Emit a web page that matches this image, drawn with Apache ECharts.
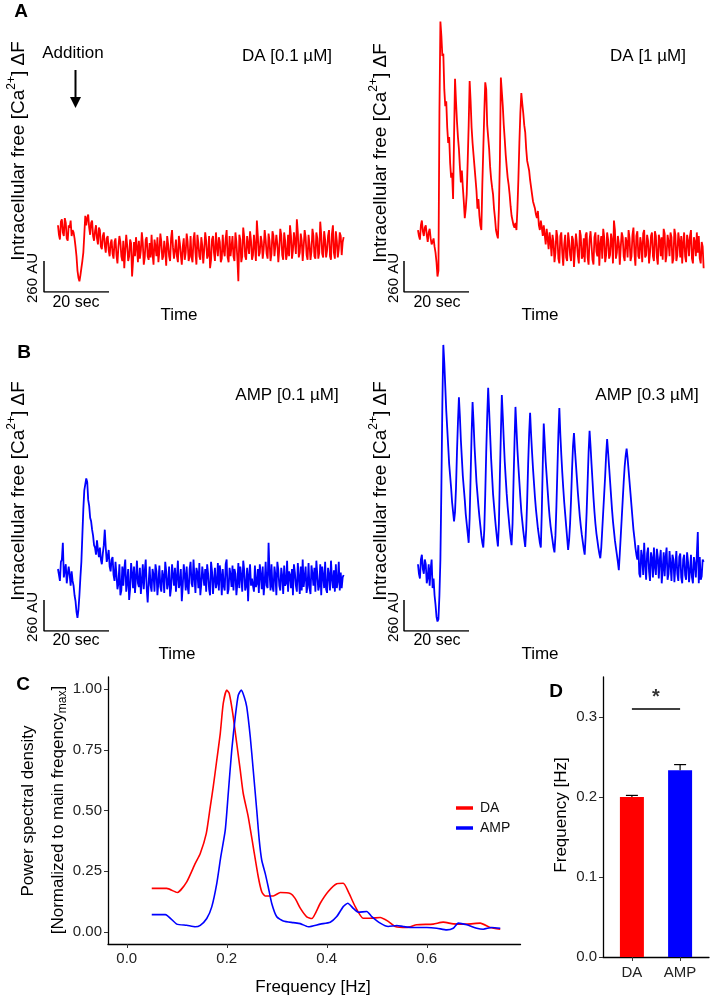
<!DOCTYPE html>
<html><head><meta charset="utf-8">
<script src="https://cdn.jsdelivr.net/npm/echarts@6/dist/echarts.min.js"></script>
<style>html,body{margin:0;padding:0;background:#fff}#c{width:710px;height:997px}</style>
</head><body><div id="c"></div>
<script>
const FONT = '"Liberation Sans", Arial, Helvetica, sans-serif';

// ---------- Calcium traces (ΔF in AU), sampled every 0.3 s starting at 4.3 s ----------
const traceStart = 4.3;
const traceStep = 0.3;
const traceDA01 = [
560,480,440,590,610,500,470,620,580,450,430,560,540,600,470,520,
500,450,380,300,180,120,90,140,200,260,330,480,640,
560,620,650,540,480,580,600,470,430,510,560,450,400,540,520,380,360,470,500,390,330,450,470,350,300,410,440,320,
280,420,450,310,240,380,470,420,300,260,430,200,350,480,390,260,300,440,410,130,
260,420,300,460,380,250,430,280,350,500,410,230,290,440,460,300,270,410,290,480,
320,230,440,380,300,460,250,340,490,420,270,300,430,350,220,470,400,300,260,450,
520,370,280,350,440,300,250,470,410,310,230,380,450,270,330,490,420,260,300,470,
290,250,440,500,330,230,480,410,300,270,460,390,240,350,500,430,280,310,470,200,
270,440,470,330,260,500,380,300,460,420,250,280,480,350,300,450,520,290,250,470,
300,380,470,300,260,500,420,280,90,480,440,250,300,540,460,300,270,470,400,320,
510,430,270,310,480,380,260,600,470,300,330,470,420,280,360,520,440,320,280,490,
430,260,320,510,470,300,290,480,400,250,360,530,480,310,270,500,430,270,320,480,
300,560,470,280,350,500,420,320,610,500,290,330,490,430,260,380,520,460,310,270,
480,400,270,340,530,470,300,280,500,450,280,330,590,480,320,290,510,440,290,350,
470,520,300,270,490,560,330,280,510,430,290,360,500,470,310,420,460];
const traceDA1 = [
520,470,440,560,600,510,470,540,560,480,420,500,530,450,400,420,450,380,330,
250,130,180,1500,2270,
2150,1980,2000,1700,1560,1600,1380,1250,1300,1080,960,1000,780,
1300,1790,1600,1430,1300,1200,1050,920,1020,880,760,620,
700,820,1100,1400,1770,1600,1380,1250,1150,1050,950,850,700,780,640,560,520,
900,1200,1500,1760,1700,1400,1300,1200,1050,950,880,820,700,620,520,480,450,
700,1100,1800,1680,1560,1400,1280,1150,1050,960,900,820,720,640,600,560,540,580,520,
700,950,1250,1500,1670,1580,1500,1400,1340,1200,1100,1060,1020,940,880,820,760,730,700,650,620,680,560,520,600,540,470,560,480,400,530,450,360,500,420,
300,480,420,250,330,520,460,280,240,470,500,330,220,400,480,290,260,500,430,310,
260,470,440,210,350,490,410,300,240,520,470,280,300,450,250,480,500,290,230,440,
510,390,270,230,460,500,340,300,480,220,400,470,280,530,460,250,310,500,440,280,
310,490,430,240,600,520,280,330,470,410,230,380,500,460,300,260,460,420,290,520,
450,260,300,480,540,330,220,470,510,300,280,460,400,250,490,520,290,310,480,430,
240,330,470,500,300,260,510,470,290,230,480,440,300,460,270,530,490,250,310,480,
420,300,500,460,240,280,530,480,260,310,500,430,290,470,240,410,500,300,250,480,
430,300,470,520,280,240,460,420,300,500,330,470,280,240,420,380,200];
const traceAMP01 = [
520,470,420,580,600,740,450,510,560,400,480,540,470,380,500,420,380,
300,250,160,110,180,300,450,580,800,1020,1180,1230,1280,1250,1100,1050,950,920,850,800,720,700,640,760,680,620,700,600,560,650,720,850,700,580,620,680,540,500,600,620,470,420,
580,470,350,400,560,300,340,540,380,520,600,330,410,520,260,350,570,480,360,540,
320,450,590,400,370,530,310,420,560,350,500,600,360,240,400,540,380,330,520,470,
330,560,500,300,410,550,370,330,510,460,320,580,500,350,400,540,290,360,560,470,
380,530,330,450,590,360,400,520,250,380,560,470,340,540,370,310,520,580,400,370,
600,450,320,530,490,360,570,300,390,540,460,380,520,330,560,480,350,300,580,500,
310,430,530,360,400,570,340,550,470,300,520,380,340,560,600,310,350,530,470,370,
550,340,520,480,300,400,570,360,540,460,330,590,510,340,380,530,250,470,560,380,
440,380,330,550,370,400,520,320,560,470,350,540,300,410,580,380,360,740,490,340,
560,370,330,540,470,300,580,510,380,340,530,460,310,550,380,400,590,330,500,470,
360,520,300,560,490,380,330,570,450,310,540,340,600,370,450,540,320,380,570,360,
310,550,480,380,530,330,590,470,340,380,560,300,540,460,360,580,350,320,530,470,
340,590,440,360,510,330,560,360,420,580,340,490,360,450,470];
const traceAMP03 = [
560,480,440,600,640,520,480,600,560,400,450,560,380,520,600,360,440,300,220,
120,80,100,300,600,1200,1900,2400,
2250,2050,1850,1700,1550,1400,1300,1200,1080,1000,920,
1000,1200,1500,1750,1960,
1800,1600,1450,1300,1200,1100,980,900,820,740,
950,1300,1650,1920,
1750,1550,1400,1250,1150,1050,960,880,800,740,700,
850,1150,1500,1800,2040,
1850,1650,1450,1300,1150,1050,950,860,780,710,
900,1300,1650,1980,
1800,1600,1420,1280,1150,1040,950,860,780,720,
900,1250,1580,1880,
1700,1520,1380,1250,1120,1000,920,840,770,705,
850,1100,1400,1650,1830,
1650,1500,1360,1240,1120,1020,940,860,800,740,700,
1000,1400,1740,
1580,1420,1300,1180,1060,960,880,820,760,700,660,
800,1050,1350,1650,1870,
1650,1480,1330,1200,1080,980,880,780,680,
760,900,1100,1350,1550,1660,
1520,1400,1280,1160,1060,960,880,810,750,690,640,
800,1000,1250,1500,1680,
1550,1400,1260,1120,1000,900,820,760,700,650,610,
700,850,1000,1150,1300,1480,1610,
1500,1380,1260,1140,1020,920,840,760,700,640,580,510,
650,800,950,1100,1250,1380,1470,1530,
1450,1350,1250,1150,1050,950,850,780,700,640,
600,720,480,450,680,620,470,740,560,430,650,700,500,420,660,610,450,700,540,470,
690,620,440,600,680,400,520,660,460,620,700,430,480,670,560,420,640,600,410,550,
670,480,420,620,650,450,400,600,640,470,430,660,580,410,500,640,450,400,620,560,
450,640,830,400,620,430,460,600,580];

// scale bars
const scaleBarAU = 260;
const scaleBarSec = 20;

// ---------- Panel C: power spectral density ----------
const freqDA = [0.05,0.08,0.101,0.12,0.137,0.147,0.159,0.167,0.173,0.18,0.187,0.193,0.2,0.205,0.212,0.22,0.227,0.233,0.243,0.253,0.263,0.27,0.277,0.293,0.307,0.327,0.337,0.347,0.36,0.37,0.387,0.403,0.42,0.433,0.443,0.457,0.473,0.487,0.507,0.523,0.537,0.56,0.58,0.613,0.633,0.653,0.68,0.707,0.727,0.747];
const psdDA = [0.179,0.179,0.162,0.206,0.282,0.323,0.405,0.515,0.598,0.707,0.817,0.941,0.996,0.982,0.9,0.776,0.666,0.57,0.474,0.35,0.227,0.165,0.148,0.148,0.162,0.158,0.137,0.098,0.062,0.055,0.118,0.166,0.198,0.2,0.166,0.104,0.056,0.056,0.059,0.043,0.022,0.018,0.029,0.032,0.04,0.033,0.032,0.036,0.018,0.011];
const freqAMP = [0.05,0.077,0.1,0.12,0.137,0.147,0.16,0.17,0.18,0.188,0.197,0.203,0.21,0.217,0.223,0.229,0.235,0.24,0.247,0.253,0.26,0.265,0.27,0.277,0.283,0.29,0.3,0.313,0.333,0.347,0.363,0.387,0.407,0.42,0.433,0.442,0.453,0.463,0.48,0.49,0.507,0.523,0.54,0.553,0.573,0.6,0.62,0.64,0.653,0.663,0.68,0.7,0.713,0.73,0.747];
const psdAMP = [0.071,0.071,0.032,0.027,0.021,0.027,0.055,0.103,0.199,0.309,0.419,0.57,0.749,0.886,0.975,0.996,0.968,0.927,0.804,0.666,0.501,0.378,0.295,0.24,0.185,0.117,0.062,0.045,0.038,0.034,0.021,0.032,0.04,0.063,0.104,0.118,0.097,0.081,0.084,0.063,0.036,0.022,0.026,0.022,0.018,0.018,0.015,0.008,0.015,0.036,0.029,0.015,0.011,0.018,0.015];
const cFreqTicks = [0, 0.2, 0.4, 0.6];
const cPsdTicks = [0, 0.25, 0.5, 0.75, 1];

// ---------- Panel D: mean frequency ----------
const dCategories = ['DA', 'AMP'];
const dMeans = [0.200, 0.2335];
const dSem = [0.002, 0.007];
const dSigLevel = 0.31;
const dStarLevel = 0.325;
const dTicks = [0, 0.1, 0.2, 0.3];

const RED = '#ff0000', BLUE = '#0000ff';

function tracePairs(vals) { return vals.map((v, i) => [+(traceStart + i * traceStep).toFixed(2), v]); }
function zip(xs, ys) { return xs.map((x, i) => [x, ys[i]]); }

const chart = echarts.init(document.getElementById('c'), null, { renderer: 'canvas' });

const traceGrids = [
  { left: 44, top: 6, width: 302, height: 286 },
  { left: 404, top: 6, width: 302, height: 286 },
  { left: 44, top: 333, width: 302, height: 298 },
  { left: 404, top: 333, width: 302, height: 298 }
];
const traceYMax = [2400, 2400, 2500, 2500];
const traceSets = [traceDA01, traceDA1, traceAMP01, traceAMP03];
const traceColors = [RED, RED, BLUE, BLUE];

const xAxes = [], yAxes = [], series = [];
traceGrids.forEach((g, k) => {
  xAxes.push({ gridIndex: k, type: 'value', min: 0, max: 302 / 3.25, show: false });
  yAxes.push({ gridIndex: k, type: 'value', min: 0, max: traceYMax[k], show: false });
  series.push({ type: 'line', name: 'trace' + k, xAxisIndex: k, yAxisIndex: k, data: tracePairs(traceSets[k]),
    showSymbol: false, symbol: 'none', sampling: null, lineStyle: { color: traceColors[k], width: 1.8 }, itemStyle: { color: traceColors[k] }, z: 2 });
  series.push({ type: 'line', name: 'scale' + k, xAxisIndex: k, yAxisIndex: k,
    data: [[0, scaleBarAU], [0, 0], [scaleBarSec, 0]], showSymbol: false, symbol: 'none',
    lineStyle: { color: '#000', width: 1.5 }, itemStyle: { color: '#000' }, z: 3 });
});

// Panel C
xAxes.push({ gridIndex: 4, type: 'value', min: -0.0375, max: 0.7875,
  axisLine: { show: true, onZero: false, lineStyle: { color: '#000', width: 1.3 } },
  axisTick: { show: true, customValues: cFreqTicks, length: 4, lineStyle: { color: '#333', width: 1 } },
  axisLabel: { customValues: cFreqTicks, formatter: v => v.toFixed(1), fontSize: 15, color: '#222', margin: 7, fontFamily: FONT },
  splitLine: { show: false } });
yAxes.push({ gridIndex: 4, type: 'value', min: -0.05, max: 1.05,
  axisLine: { show: true, onZero: false, lineStyle: { color: '#000', width: 1.3 } },
  axisTick: { show: true, customValues: cPsdTicks, length: 4, lineStyle: { color: '#333', width: 1 } },
  axisLabel: { customValues: cPsdTicks, formatter: v => v.toFixed(2), fontSize: 15, color: '#222', margin: 6, fontFamily: FONT },
  splitLine: { show: false } });
series.push({ type: 'line', name: 'DA', xAxisIndex: 4, yAxisIndex: 4, data: zip(freqDA, psdDA), showSymbol: false, symbol: 'none', smooth: 0.2,
  lineStyle: { color: RED, width: 1.6 }, itemStyle: { color: RED } });
series.push({ type: 'line', name: 'AMP', xAxisIndex: 4, yAxisIndex: 4, data: zip(freqAMP, psdAMP), showSymbol: false, symbol: 'none', smooth: 0.2,
  lineStyle: { color: BLUE, width: 1.6 }, itemStyle: { color: BLUE } });

// Panel D
xAxes.push({ gridIndex: 5, type: 'value', min: 0.4, max: 2.6,
  axisLine: { show: true, onZero: false, lineStyle: { color: '#000', width: 1.3 } },
  axisTick: { show: true, customValues: [1, 2], length: 4, lineStyle: { color: '#333', width: 1 } },
  axisLabel: { customValues: [1, 2], formatter: v => dCategories[Math.round(v) - 1], fontSize: 15, color: '#222', margin: 8, fontFamily: FONT },
  splitLine: { show: false } });
yAxes.push({ gridIndex: 5, type: 'value', min: 0, max: 0.35,
  axisLine: { show: true, onZero: false, lineStyle: { color: '#000', width: 1.3 } },
  axisTick: { show: true, customValues: dTicks, length: 4, lineStyle: { color: '#333', width: 1 } },
  axisLabel: { customValues: dTicks, formatter: v => v.toFixed(1), fontSize: 15, color: '#222', margin: 6, fontFamily: FONT },
  splitLine: { show: false } });
series.push({ type: 'bar', name: 'meanFreq', xAxisIndex: 5, yAxisIndex: 5, barWidth: 24,
  data: dMeans.map((m, i) => ({ value: [i + 1, m], itemStyle: { color: i === 0 ? RED : BLUE } })) });
series.push({ type: 'custom', name: 'sem', xAxisIndex: 5, yAxisIndex: 5, z: 5,
  data: dMeans.map((m, i) => [i + 1, m, dSem[i]]),
  renderItem: (params, api) => {
    const x = api.value(0), m = api.value(1), e = api.value(2);
    const p0 = api.coord([x, m]), p1 = api.coord([x, m + e]);
    const st = { stroke: '#000', lineWidth: 1.2 };
    return { type: 'group', children: [
      { type: 'line', shape: { x1: p0[0], y1: p0[1], x2: p1[0], y2: p1[1] }, style: st },
      { type: 'line', shape: { x1: p1[0] - 6, y1: p1[1], x2: p1[0] + 6, y2: p1[1] }, style: st }
    ] };
  } });
series.push({ type: 'line', name: 'sig', xAxisIndex: 5, yAxisIndex: 5, data: [[1, dSigLevel], [2, dSigLevel]],
  showSymbol: false, symbol: 'none', lineStyle: { color: '#000', width: 1.5 }, itemStyle: { color: '#000' } });
series.push({ type: 'scatter', name: 'star', xAxisIndex: 5, yAxisIndex: 5, data: [[1.5, dStarLevel]], symbolSize: 0,
  label: { show: true, position: 'inside', formatter: '*', fontSize: 20, fontWeight: 'bold', color: '#000', fontFamily: FONT } });

// ---------- text annotations ----------
function txt(text, x, y, size, opts) {
  opts = opts || {};
  return { type: 'text', x: x, y: y, rotation: opts.rot ? Math.PI / 2 : 0, z: 10,
    style: { text: text, fontSize: size, fontFamily: FONT, fontWeight: opts.bold ? 'bold' : 'normal', fill: '#000',
      align: 'center', verticalAlign: 'middle', rich: opts.rich } };
}
const yLabelRich = {
  n: { fontSize: 19, fontFamily: FONT, fill: '#000', verticalAlign: 'middle' },
  s: { fontSize: 12, fontFamily: FONT, fill: '#000', verticalAlign: 'middle', padding: [0, 0, 14, 0] }
};
const yLabelText = '{n|Intracellular free [Ca}{s|2+}{n|] ΔF}';
const normRich = {
  n: { fontSize: 17, fontFamily: FONT, fill: '#000', verticalAlign: 'middle' },
  s: { fontSize: 12, fontFamily: FONT, fill: '#000', verticalAlign: 'middle', padding: [10, 0, 0, 0] }
};
const graphics = [
  txt('A', 21, 12, 19, { bold: true }),
  txt('B', 24, 353, 19, { bold: true }),
  txt('C', 23, 685, 19, { bold: true }),
  txt('D', 556, 692, 19, { bold: true }),
  txt('Addition', 73, 53, 17),
  txt('DA [0.1 µM]', 287, 56, 17),
  txt('DA [1 µM]', 648, 56, 17),
  txt('AMP [0.1 µM]', 287, 395, 17),
  txt('AMP [0.3 µM]', 647, 395, 17),
  txt('20 sec', 76, 303, 16), txt('20 sec', 437, 303, 16), txt('20 sec', 76, 641, 16), txt('20 sec', 437, 641, 16),
  txt('Time', 179, 315, 17), txt('Time', 540, 315, 17), txt('Time', 177, 654, 17), txt('Time', 540, 654, 17),
  txt('260 AU', 33, 278, 15, { rot: true }), txt('260 AU', 394, 278, 15, { rot: true }),
  txt('260 AU', 33, 617, 15, { rot: true }), txt('260 AU', 394, 617, 15, { rot: true }),
  txt(yLabelText, 19, 151, 19, { rot: true, rich: yLabelRich }),
  txt(yLabelText, 381, 153, 19, { rot: true, rich: yLabelRich }),
  txt(yLabelText, 19, 491, 19, { rot: true, rich: yLabelRich }),
  txt(yLabelText, 381, 491, 19, { rot: true, rich: yLabelRich }),
  txt('Power spectral density', 28, 811, 17, { rot: true }),
  txt('{n|[Normalized to main freqency}{s|max}{n|]}', 58, 810, 17, { rot: true, rich: normRich }),
  txt('Frequency [Hz]', 313, 987, 17),
  txt('Frequency [Hz]', 561, 815, 17, { rot: true }),
  { type: 'line', shape: { x1: 75.5, y1: 70, x2: 75.5, y2: 99 }, style: { stroke: '#000', lineWidth: 2 }, z: 10 },
  { type: 'polygon', shape: { points: [[70, 97], [81, 97], [75.5, 108]] }, style: { fill: '#000' }, z: 10 }
];

chart.setOption({
  animation: false,
  backgroundColor: '#fff',
  textStyle: { fontFamily: FONT },
  grid: traceGrids.concat([
    { left: 108, top: 677, width: 412.5, height: 267 },
    { left: 603, top: 677, width: 106, height: 280 }
  ]),
  xAxis: xAxes,
  yAxis: yAxes,
  legend: { data: ['DA', 'AMP'], orient: 'vertical', left: 451, top: 796, itemGap: 6, itemWidth: 17, itemHeight: 3.5, icon: 'rect',
    selectedMode: false, textStyle: { fontSize: 14, color: '#111', fontFamily: FONT, padding: [0, 0, 0, 2] } },
  series: series,
  graphic: graphics
});
</script></body></html>
